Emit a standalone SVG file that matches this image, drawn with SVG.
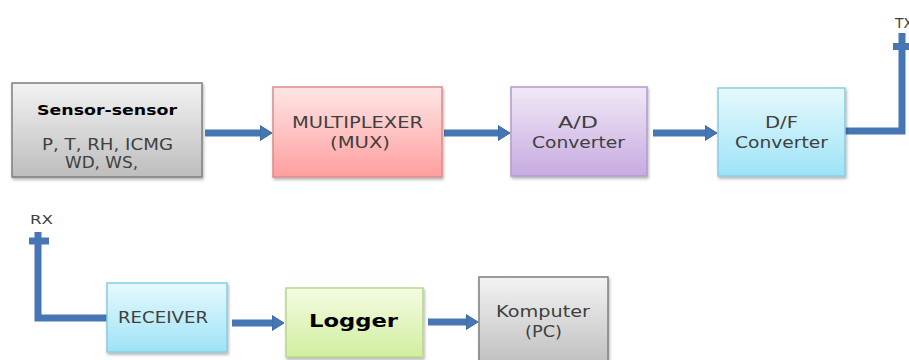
<svg xmlns="http://www.w3.org/2000/svg" width="909" height="360" viewBox="0 0 909 360">
<style>
.box{stroke-width:1.5;filter:url(#sh)}
.t{font-family:"DejaVu Sans","Liberation Sans",sans-serif;fill:#404040;text-anchor:middle}
.b{font-family:"DejaVu Sans","Liberation Sans",sans-serif;font-weight:bold;fill:#000;text-anchor:middle}
.conn{stroke:#4677b4;stroke-width:7;fill:none}
.ant{fill:none;stroke:#4677b4;stroke-width:7}
</style>
<defs>
<filter id="sh" x="-10%" y="-10%" width="130%" height="130%">
<feDropShadow dx="1" dy="2" stdDeviation="1.5" flood-color="#000" flood-opacity="0.3"/>
</filter>
<linearGradient id="gGray" x1="0" y1="0" x2="0" y2="1"><stop offset="0" stop-color="#f3f3f3"/><stop offset="1" stop-color="#bdbdbd"/></linearGradient>
<linearGradient id="gPink" x1="0" y1="0" x2="0" y2="1"><stop offset="0" stop-color="#ffe6e6"/><stop offset="1" stop-color="#ff9e9e"/></linearGradient>
<linearGradient id="gLav" x1="0" y1="0" x2="0" y2="1"><stop offset="0" stop-color="#f0e9f7"/><stop offset="1" stop-color="#c7abe0"/></linearGradient>
<linearGradient id="gCyan" x1="0" y1="0" x2="0" y2="1"><stop offset="0" stop-color="#e6f9fd"/><stop offset="1" stop-color="#9ee3f7"/></linearGradient>
<linearGradient id="gGreen" x1="0" y1="0" x2="0" y2="1"><stop offset="0" stop-color="#f4fbe3"/><stop offset="1" stop-color="#d2ee9e"/></linearGradient>
<marker id="ah" markerUnits="userSpaceOnUse" markerWidth="16" markerHeight="18" viewBox="0 -9 16 18" refX="1" refY="0" orient="auto">
<path d="M0,-7.5 L12,0 L0,7.5 Z" fill="#4677b4" stroke="#39659c" stroke-width="1"/>
</marker>
</defs>
<rect width="909" height="360" fill="#fff"/>

<g id="connectors">
<line class="conn" x1="205" y1="133" x2="261" y2="133" marker-end="url(#ah)"/>
<line class="conn" x1="444" y1="133" x2="499" y2="133" marker-end="url(#ah)"/>
<line class="conn" x1="653" y1="133" x2="706" y2="133" marker-end="url(#ah)"/>
<line class="conn" x1="232" y1="323" x2="273" y2="323" marker-end="url(#ah)"/>
<line class="conn" x1="428" y1="322" x2="467" y2="322" marker-end="url(#ah)"/>
<path class="conn" d="M845,131 H902 V33"/>
<path class="ant" d="M893,46.5 H914"/>
<path class="conn" d="M38,232 V318 H107"/>
<path class="ant" d="M29,241 H49"/>
</g>

<g id="sensor">
<rect class="box" x="12" y="83" width="190" height="94" fill="url(#gGray)" stroke="#7f7f7f"/>
<text class="b" x="107" y="115" font-size="14" textLength="140" lengthAdjust="spacingAndGlyphs">Sensor-sensor</text>
<text class="t" x="107.5" y="150" font-size="15" textLength="131" lengthAdjust="spacingAndGlyphs">P, T, RH, ICMG</text>
<text class="t" x="101.5" y="168" font-size="15" textLength="73" lengthAdjust="spacingAndGlyphs">WD, WS,</text>
</g>

<g id="mux">
<rect class="box" x="273" y="87" width="169" height="90" fill="url(#gPink)" stroke="#dc8c8c"/>
<text class="t" x="357.5" y="128" font-size="15" textLength="131" lengthAdjust="spacingAndGlyphs">MULTIPLEXER</text>
<text class="t" x="360" y="148" font-size="15" textLength="60" lengthAdjust="spacingAndGlyphs">(MUX)</text>
</g>

<g id="adc">
<rect class="box" x="511" y="87" width="136" height="89" fill="url(#gLav)" stroke="#b39ad0"/>
<text class="t" x="578" y="128" font-size="15" textLength="40" lengthAdjust="spacingAndGlyphs">A/D</text>
<text class="t" x="578.5" y="148" font-size="15" textLength="93" lengthAdjust="spacingAndGlyphs">Converter</text>
</g>

<g id="dfc">
<rect class="box" x="718" y="88" width="127" height="88" fill="url(#gCyan)" stroke="#86cde3"/>
<text class="t" x="781.5" y="128" font-size="15" textLength="33" lengthAdjust="spacingAndGlyphs">D/F</text>
<text class="t" x="781.5" y="148" font-size="15" textLength="93" lengthAdjust="spacingAndGlyphs">Converter</text>
</g>

<g id="tx">
<text class="t" x="895" y="28" font-size="14" style="text-anchor:start">TX</text>
</g>

<g id="rx">
<text class="t" x="30" y="224" font-size="13" style="text-anchor:start" textLength="23" lengthAdjust="spacingAndGlyphs">RX</text>
</g>

<g id="receiver">
<rect class="box" x="107" y="283" width="120" height="69" fill="url(#gCyan)" stroke="#86cde3"/>
<text class="t" x="163" y="323" font-size="15" textLength="90" lengthAdjust="spacingAndGlyphs">RECEIVER</text>
</g>

<g id="logger">
<rect class="box" x="286" y="288" width="137" height="69" fill="url(#gGreen)" stroke="#b5d78a"/>
<text class="b" x="353.5" y="327" font-size="17" textLength="89" lengthAdjust="spacingAndGlyphs">Logger</text>
</g>

<g id="komputer">
<rect class="box" x="479" y="277" width="129" height="92" fill="url(#gGray)" stroke="#7f7f7f"/>
<text class="t" x="543" y="317" font-size="15" textLength="94" lengthAdjust="spacingAndGlyphs">Komputer</text>
<text class="t" x="543.5" y="337" font-size="15" textLength="37" lengthAdjust="spacingAndGlyphs">(PC)</text>
</g>
</svg>
